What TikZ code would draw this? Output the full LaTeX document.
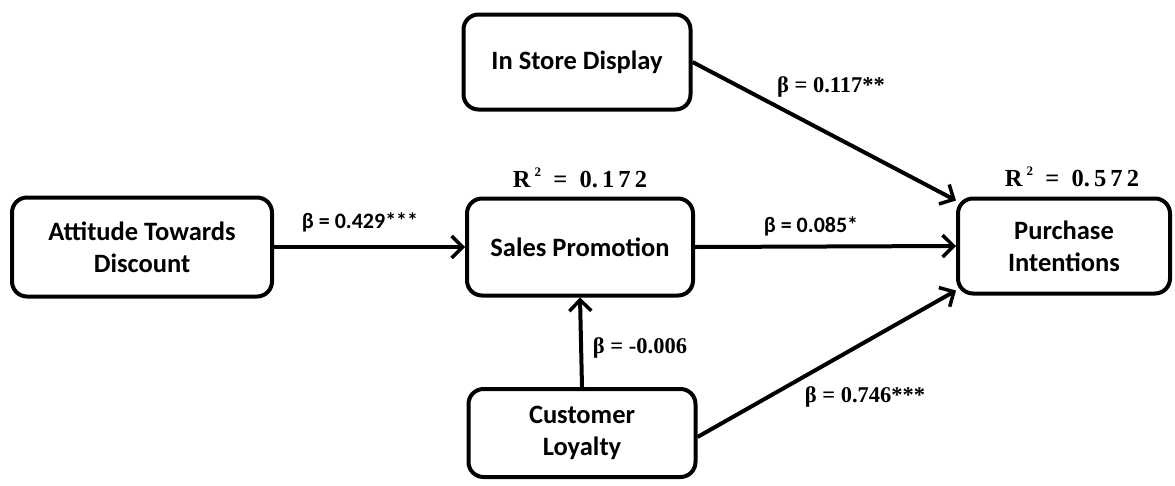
\documentclass[tikz,border=0pt]{standalone}
\usepackage{fontspec}
\setmainfont{Carlito}
\newfontfamily\tnr{Liberation Serif}
\usetikzlibrary{arrows.meta}
\tikzset{
  box/.style={draw, line width=4pt, rounded corners=15pt, align=center,
    font=\fontsize{26.5}{32}\selectfont\bfseries, inner sep=0pt},
  conn/.style={line width=4pt, -{Straight Barb[length=11pt,width=22pt,line width=3.5pt]}},
  lblc/.style={font=\fontsize{22}{24}\selectfont\bfseries, inner sep=0pt},
  lblt/.style={font=\fontsize{22.5}{24}\selectfont\tnr\bfseries, inner sep=0pt},
  rsq/.style={font=\fontsize{24.5}{26}\selectfont\tnr\bfseries, inner sep=0pt}
}
\begin{document}
\begin{tikzpicture}[x=1pt,y=-1pt]
\useasboundingbox (0,0) rectangle (1175,485);
\node[box, minimum width=260pt, minimum height=99pt] (att) at (142,247) {Attitude Towards\\Discount};
\node[box, minimum width=227pt, minimum height=95pt] (isd) at (577,62) {In Store Display};
\node[box, minimum width=226pt, minimum height=97pt] (sp) at (580,247) {Sales Promotion};
\node[box, minimum width=227pt, minimum height=88pt] (cl) at (582,433) {Customer\\Loyalty};
\node[box, minimum width=212pt, minimum height=95pt] (pi) at (1064,246) {Purchase\\Intentions};

\draw[conn] (att.east) -- (sp.west);
\draw[conn] (sp.east) -- (pi.west);
\draw[conn] (isd.east) -- ([yshift=-4pt]pi.north west);
\draw[conn] ([yshift=-4pt]cl.east) -- ([yshift=5pt]pi.south west);
\draw[conn] (cl.north) -- (sp.south);

\node[lblc] (l1) at (360,222) {β = 0.429***};
\node[lblt] (l2) at (831,87) {β = 0.117**};
\node[lblc] (l3) at (811,226) {β = 0.085*};
\node[lblt] (l4) at (640,348) {β = -0.006};
\node[lblt] (l5) at (865,397) {β = 0.746***};
\node[rsq] (r1) at (580,178) {R\,\raisebox{0.45em}{\fontsize{13}{13}\selectfont 2}\ \ =\ \ 0.\,1\,7\,2};
\node[rsq] (r2) at (1072,177) {R\,\raisebox{0.45em}{\fontsize{13}{13}\selectfont 2}\ \ =\ \ 0.\,5\,7\,2};
\end{tikzpicture}
\end{document}
